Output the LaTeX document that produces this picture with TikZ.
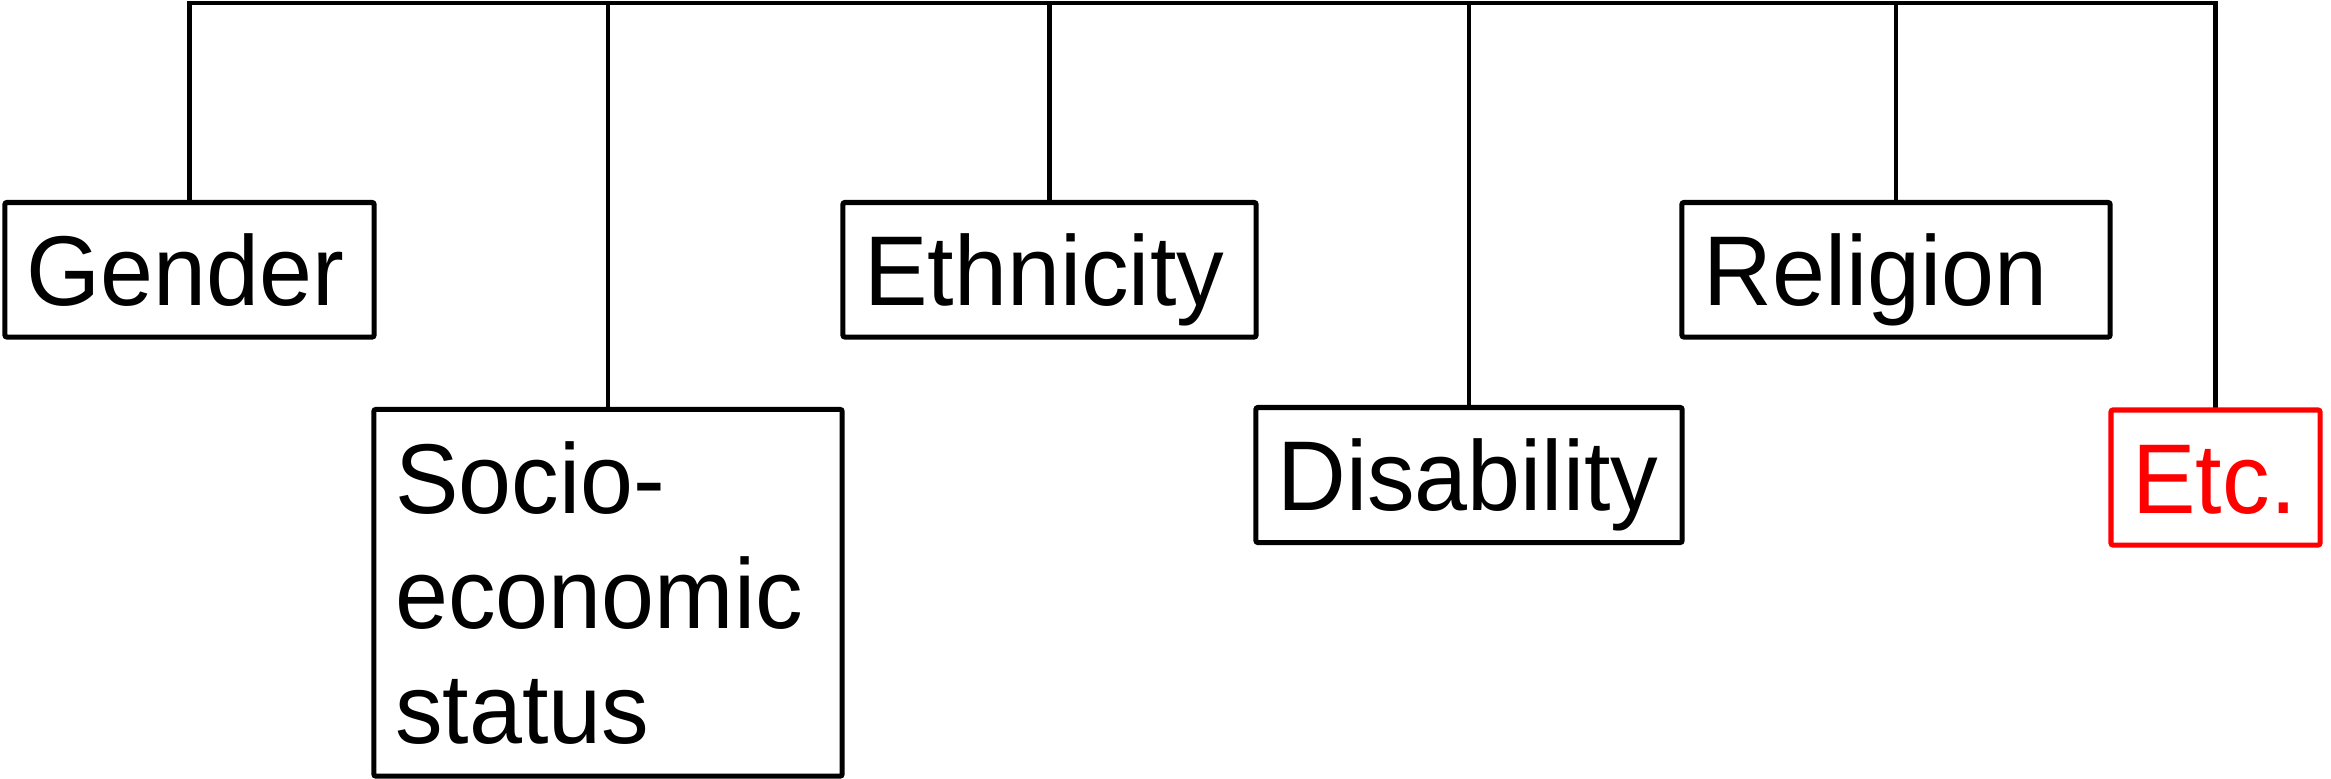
\documentclass[tikz,border=0pt]{standalone}
\usepackage{fontspec}
\setmainfont{Liberation Sans}[FakeStretch=0.96]
\usetikzlibrary{backgrounds}
\definecolor{etcred}{RGB}{255,0,0}
\tikzset{
  box/.style={draw, line width=1.45pt, rectangle, rounded corners=0.6pt,
    inner xsep=0.215cm, inner ysep=0pt, outer sep=0pt, align=left,
    font=\fontsize{28.2pt}{32.7pt}\selectfont,
    text height=0.71cm, text depth=0pt},
  conn/.style={draw, line width=1.35pt}
}
\begin{document}
\begin{tikzpicture}[x=0.01cm, y=-0.01cm]
\useasboundingbox (0,0) rectangle (2331,778);
\node[box, minimum width=3.69cm, minimum height=1.345cm, text width=3.26cm] (gender) at (189.5,269.75) {Gender};
\node[box, minimum width=4.13cm, minimum height=1.345cm, text width=3.70cm] (ethn) at (1049.5,269.75) {Ethnicity};
\node[box, minimum width=4.28cm, minimum height=1.345cm, text width=3.85cm] (relig) at (1896,269.75) {Religion};
\node[box, minimum width=4.68cm, minimum height=3.665cm, text width=4.25cm, text depth=2.30cm] (socio) at (608,592.75) {Socio-\\economic\\status};
\node[box, minimum width=4.26cm, minimum height=1.35cm, text width=3.83cm] (disab) at (1469,475) {Disability};
\node[box, draw=etcred, text=etcred, minimum width=2.09cm, minimum height=1.35cm, text width=1.66cm] (etc) at (2215.5,477.5) {Etc.};
\coordinate (topy) at (0,3);
\begin{scope}[on background layer]
\draw[conn] (gender.north) |- (topy -| etc.north) -- (etc.north);
\draw[conn] (socio.north) -- (socio.north |- topy);
\draw[conn] (ethn.north) -- (ethn.north |- topy);
\draw[conn] (disab.north) -- (disab.north |- topy);
\draw[conn] (relig.north) -- (relig.north |- topy);
\end{scope}
\end{tikzpicture}
\end{document}
